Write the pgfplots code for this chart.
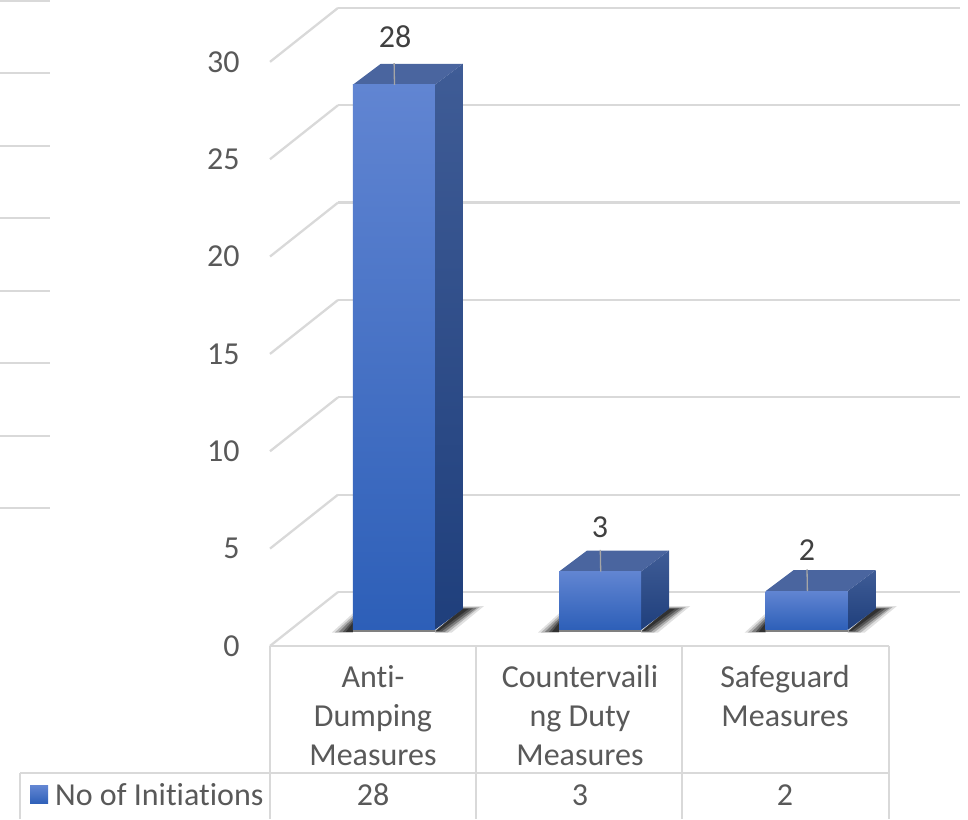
\documentclass[border=0pt]{standalone}
\usepackage{pgfplots}
\pgfplotsset{compat=1.18}
\usepackage{fontspec}
\setmainfont[Ligatures=NoCommon]{Carlito}

\definecolor{gridgray}{HTML}{D9D9D9}
\definecolor{labelgray}{HTML}{595959}
\definecolor{valuegray}{HTML}{404040}
\definecolor{frontA}{HTML}{6185D2}
\definecolor{frontB}{HTML}{2D5FB8}
\definecolor{sideA}{HTML}{3F5C96}
\definecolor{sideB}{HTML}{1F3F7C}
\definecolor{topface}{HTML}{4A659F}

% One horizontal unit is one point; one value unit is 19.47 points.
\pgfplotsset{
  from left/.style={x filter/.expression={x+#1}},
  rule/.style={draw=gridgray,line width=2.3pt,forget plot},
  poly/.style={draw=none,forget plot},
}

% Soft floor shadow beside a bar whose front face starts at x = #1
\newcommand\floorshadow[1]{%
  \addplot[poly,fill=black,fill opacity=.12,from left=#1] coordinates {(82,-.13)(99,-.13)(131,1.22)(110,1.22)} --cycle;
  \addplot[poly,fill=black,fill opacity=.2,from left=#1] coordinates {(82,-.13)(95,-.13)(127,1.18)(110,1.18)} --cycle;
  \addplot[poly,fill=black,fill opacity=.3,from left=#1] coordinates {(82,-.1)(92,-.1)(124,1.14)(110,1.14)} --cycle;
  \addplot[poly,fill=black,fill opacity=.35,from left=#1] coordinates {(82,-.07)(89,-.07)(120,1.11)(110,1.11)} --cycle;
  \addplot[poly,fill=black,fill opacity=.4,from left=#1] coordinates {(82,-.05)(86,-.05)(116,1.09)(110,1.09)} --cycle;
  \addplot[poly,fill=black,fill opacity=.12,from left=#1] coordinates {(-21,-.13)(0,-.13)(0,.85)} --cycle;
  \addplot[poly,fill=black,fill opacity=.2,from left=#1] coordinates {(-18,-.13)(0,-.13)(0,.72)} --cycle;
  \addplot[poly,fill=black,fill opacity=.3,from left=#1] coordinates {(-14,-.1)(0,-.1)(0,.6)} --cycle;
  \addplot[poly,fill=black,fill opacity=.35,from left=#1] coordinates {(-10,-.1)(0,-.1)(0,.48)} --cycle;
  \addplot[poly,fill=black,fill opacity=.4,from left=#1] coordinates {(-7,-.1)(0,-.1)(0,.36)} --cycle;
  \addplot[poly,fill=black!50,from left=#1] coordinates {(0,0)(82,0)(82,-.1)(0,-.1)} --cycle;
}

% Box with front face at x = #1, 82 wide, of value #2, with its leader line
\newcommand\valuebar[2]{%
  \pgfmathsetmacro\backtop{#2+1.08}%
  \pgfmathsetmacro\leadtop{#2+1.12}%
  \addplot[poly,top color=sideA,bottom color=sideB,from left=#1] coordinates {(82,0)(110,1.08)(110,\backtop)(82,#2)} --cycle;
  \addplot[poly,fill=topface,from left=#1] coordinates {(0,#2)(82,#2)(110,\backtop)(28,\backtop)} --cycle;
  \addplot[poly,top color=frontA,bottom color=frontB,from left=#1] coordinates {(0,0)(82,0)(82,#2)(0,#2)} --cycle;
  \addplot[draw=black!35,line width=1.3pt,forget plot,from left=#1] coordinates {(41.7,#2)(41.3,\leadtop)};
}

\begin{document}
\begin{tikzpicture}
\begin{axis}[
  scale only axis,
  width=968pt,
  height=819pt,
  xmin=0, xmax=968,
  ymin=-9.7072, ymax=32.3575,
  axis line style={draw=none},
  major tick length=0pt,
  tick style={draw=none},
  clip mode=individual,
  /pgf/number format/assume math mode=true,
  ytick={0,5,...,30},
  yticklabel style={anchor=east,xshift=243pt,yshift=-16pt,text=labelgray,
    font=\fontsize{32}{39}\selectfont},
  xtick={373,580,785},
  xticklabels={{Anti-\\Dumping\\Measures},{Countervaili\\ng Duty\\Measures},{Safeguard\\Measures}},
  xticklabel style={anchor=north,align=center,yshift=157pt,text=labelgray,
    font=\fontsize{32}{39}\selectfont},
  legend style={at={(axis cs:30,-8.47)},anchor=west,draw=none,fill=none,
    font=\fontsize{32}{39}\selectfont,text=labelgray,inner sep=0pt,
    legend cell align=left},
]
% Back wall, side wall and floor rules
\pgfplotsinvokeforeach{0,5,...,30}{
  \addplot[rule] coordinates {(338,#1+1.95)(960,#1+1.95)};
  \addplot[rule] coordinates {(270,#1-0.82)(338,#1+1.95)};
}
% Short rules on the far left
\pgfplotsinvokeforeach{32.3,28.6,24.85,21.15,17.4,13.7,9.95,6.25}{
  \addplot[rule] coordinates {(0,#1)(50,#1)};
}
% Data table grid below the plot
\addplot[rule] coordinates {(270,-0.82)(889,-0.82)};
\addplot[rule] coordinates {(20,-7.35)(889,-7.35)};
\addplot[rule] coordinates {(270,-0.82)(270,-9.7072)};
\addplot[rule] coordinates {(476,-0.82)(476,-9.7072)};
\addplot[rule] coordinates {(682,-0.82)(682,-9.7072)};
\addplot[rule] coordinates {(889,-0.82)(889,-9.7072)};
\addplot[rule] coordinates {(20,-7.35)(20,-9.7072)};

% Bars
\floorshadow{352.8}
\floorshadow{559}
\floorshadow{765.7}
\valuebar{352.8}{28}
\valuebar{559}{3}
\valuebar{765.7}{2}

% Value labels above the bars
\addplot[draw=none,forget plot,nodes near coords,
  nodes near coords style={anchor=center,yshift=48pt,text=valuegray,font=\fontsize{32}{39}\selectfont}]
  coordinates {(395,28)};
\addplot[draw=none,forget plot,nodes near coords,
  nodes near coords style={anchor=center,yshift=44pt,text=valuegray,font=\fontsize{32}{39}\selectfont}]
  coordinates {(600,3)};
\addplot[draw=none,forget plot,nodes near coords,
  nodes near coords style={anchor=center,yshift=41pt,text=valuegray,font=\fontsize{32}{39}\selectfont}]
  coordinates {(807,2)};

% Values in the data table row
\addplot[draw=none,forget plot,nodes near coords,
  nodes near coords style={anchor=center,text=labelgray,font=\fontsize{32}{39}\selectfont},
  point meta=explicit]
  coordinates {(373,-8.47)[28] (580,-8.47)[3] (785,-8.47)[2]};

% Series key in the table row
\addlegendimage{legend image code/.code={
  \fill[draw=none,top color=frontA,bottom color=frontB] (0pt,-9pt) rectangle (18pt,9pt);
  \path[draw=none] (0pt,0pt) -- (23pt,0pt);}}
\addlegendentry{No of Initiations}
\end{axis}
\end{tikzpicture}
\end{document}
